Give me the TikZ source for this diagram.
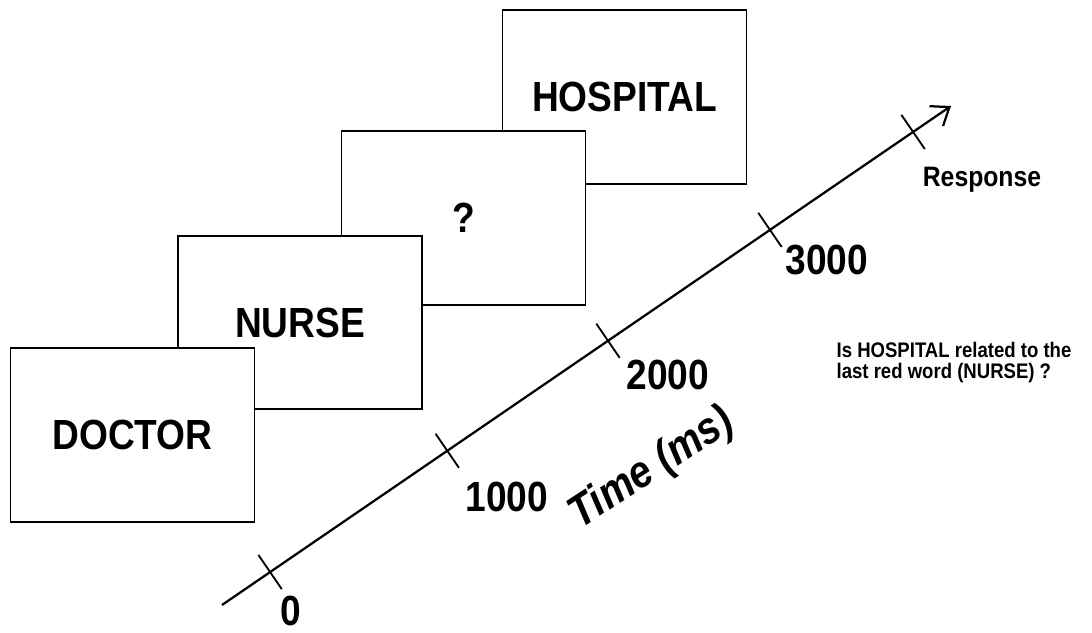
\documentclass[tikz,border=0pt]{standalone}
\usepackage{fontspec}
\setmainfont[FakeStretch=0.88]{Liberation Sans}
\usetikzlibrary{arrows.meta}

\begin{document}
\begin{tikzpicture}[screen/.style={draw, line width=1.4pt, fill=white, minimum width=6.1cm, minimum height=4.33cm, font=\fontsize{30}{36}\selectfont\bfseries},
        num/.style={font=\fontsize{30}{36}\selectfont\bfseries},
        tickmark/.style={sloped, minimum height=0.98cm, minimum width=0pt, inner sep=0pt}]
            \useasboundingbox (0, 0) rectangle (27.3, 15.825);

            % the four screens, back to front
            \node[screen] at (15.6125, 13.4) (hospital) {HOSPITAL};
            \node[screen] at (11.5875, 10.375) (query) {?};
            \node[screen] at (7.5, 7.7625) (nurse) {NURSE};
            \node[screen] at (3.3125, 4.95) (doctor) {DOCTOR};

            % time axis
            \coordinate (tstart) at (5.55, 0.7);
            \coordinate (tend) at (23.775, 13.175);
            \draw[line width=1.6pt, -{Straight Barb[length=0.4cm, width=0.6cm]}] (tstart) -- (tend)
                node[tickmark, pos=0.066] (t0) {}
                node[tickmark, pos=0.309] (t1) {}
                node[tickmark, pos=0.5295] (t2) {}
                node[tickmark, pos=0.7517] (t3) {}
                node[tickmark, pos=0.948] (t4) {};
            \foreach \t in {t0, t1, t2, t3, t4}
                \draw[line width=1.3pt] (\t.north) -- (\t.south);

            \node[num] at (7.275, 0.55) (l0) {0};
            \node[num] at (12.675, 3.4) (l1) {1000};
            \node[num] at (16.7, 6.45) (l2) {2000};
            \node[num] at (20.675, 9.325) (l3) {3000};
            \node[rotate=33, font=\fontsize{32}{36}\selectfont\bfseries\itshape] at (16.3, 4.1) (time) {Time (ms)};

            \node[font=\fontsize{20}{24}\selectfont\bfseries] at (24.55, 11.325) (resp) {Response};
            \node[align=left, font=\fontsize{15}{15}\selectfont\bfseries] at (23.85, 6.7625) (question) {Is HOSPITAL related to the\\last red word (NURSE) ?};
        \end{tikzpicture}
\end{document}
